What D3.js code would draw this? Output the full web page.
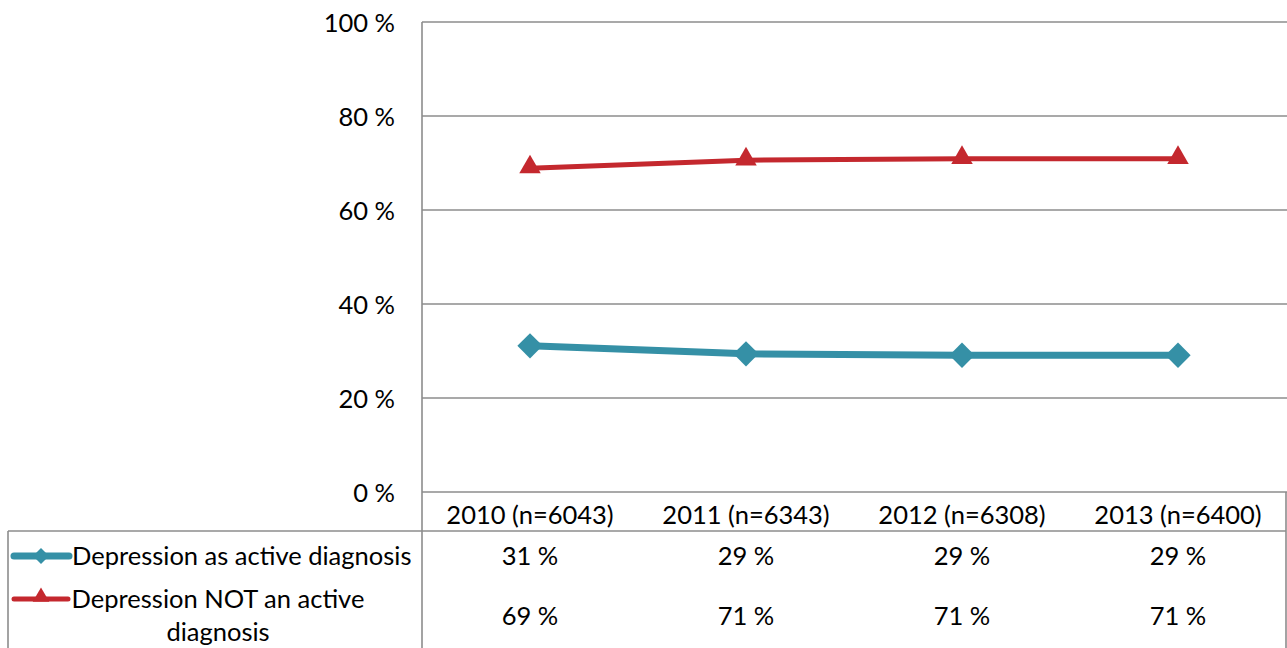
<!DOCTYPE html>
<html><head><meta charset="utf-8">
<script src="https://cdn.jsdelivr.net/npm/d3@7"></script>
<style>
body{margin:0;background:#fff;}
svg text{font-family:Lato,"Open Sans",sans-serif;fill:#000;}
</style></head>
<body><svg id="c" width="1287" height="648"></svg>
<script>
const categories = ["2010 (n=6043)","2011 (n=6343)","2012 (n=6308)","2013 (n=6400)"];
const seriesNames = ["Depression as active diagnosis","Depression NOT an active diagnosis"];
const activeValues = [31.1, 29.4, 29.1, 29.1];
const notActiveValues = [68.9, 70.6, 70.9, 70.9];
const tableActive = ["31 %","29 %","29 %","29 %"];
const tableNotActive = ["69 %","71 %","71 %","71 %"];
const yTicks = [0,20,40,60,80,100];

const svg = d3.select("#c");
const L = 422, R = 1286, T = 22, B = 492;
const x = d3.scaleBand().domain(categories).range([L, R]).padding(0);
const y = d3.scaleLinear().domain([0,100]).range([B, T]);
const grid = "#8c8c8c";
const FS = 25.5;

// gridlines
svg.append("g").selectAll("line").data(yTicks).join("line")
  .attr("x1", L).attr("x2", 1287).attr("y1", d=>y(d)).attr("y2", d=>y(d))
  .attr("stroke", grid).attr("stroke-width", 1.6);

// y axis labels
const yAxis = d3.axisLeft(y).tickValues(yTicks).tickFormat(d=>d+" %").tickSize(0).tickPadding(27);
const ga = svg.append("g").attr("transform", `translate(${L},0)`).call(yAxis);
ga.select(".domain").remove();
ga.selectAll("text").attr("font-size", FS).attr("dy", "0.36em").style("font-family","Lato,'Open Sans',sans-serif").attr("fill","#000");

// table lines
const rowH = 531;
svg.append("line").attr("x1", L).attr("x2", L).attr("y1", T).attr("y2", 648).attr("stroke", grid).attr("stroke-width", 1.6);
svg.append("line").attr("x1", 8).attr("x2", R).attr("y1", rowH).attr("y2", rowH).attr("stroke", grid).attr("stroke-width", 1.6);
svg.append("line").attr("x1", 8).attr("x2", 8).attr("y1", rowH).attr("y2", 648).attr("stroke", grid).attr("stroke-width", 1.6);
svg.append("line").attr("x1", R).attr("x2", R).attr("y1", B).attr("y2", 648).attr("stroke", grid).attr("stroke-width", 1.6);

// category header
svg.append("g").selectAll("text").data(categories).join("text")
  .attr("x", d=>x(d)+x.bandwidth()/2).attr("y", 524).attr("text-anchor","middle").attr("font-size", FS).text(d=>d);
// values rows
svg.append("g").selectAll("text").data(tableActive).join("text")
  .attr("x", (d,i)=>x(categories[i])+x.bandwidth()/2).attr("y", 565).attr("text-anchor","middle").attr("font-size", FS).text(d=>d);
svg.append("g").selectAll("text").data(tableNotActive).join("text")
  .attr("x", (d,i)=>x(categories[i])+x.bandwidth()/2).attr("y", 625).attr("text-anchor","middle").attr("font-size", FS).text(d=>d);

const blue = "#3590a6", red = "#c4282e";
const line = d3.line().x((d,i)=>x(categories[i])+x.bandwidth()/2).y(d=>y(d));

// series lines
svg.append("path").datum(activeValues).attr("d", line).attr("fill","none").attr("stroke", blue).attr("stroke-width", 7).attr("stroke-linejoin","round");
svg.append("path").datum(notActiveValues).attr("d", line).attr("fill","none").attr("stroke", red).attr("stroke-width", 5).attr("stroke-linejoin","round");

const diamond = d3.symbol().type(d3.symbolSquare).size(320);
const tri = d3.symbol().type(d3.symbolTriangle).size(200);
svg.append("g").selectAll("path").data(activeValues).join("path")
  .attr("d", diamond()).attr("fill", blue)
  .attr("transform",(d,i)=>`translate(${x(categories[i])+x.bandwidth()/2},${y(d)}) rotate(45)`);
svg.append("g").selectAll("path").data(notActiveValues).join("path")
  .attr("d", tri()).attr("fill", red)
  .attr("transform",(d,i)=>`translate(${x(categories[i])+x.bandwidth()/2},${y(d)-1})`);

// legend keys in table
svg.append("line").attr("x1", 14).attr("x2", 69).attr("y1", 556).attr("y2", 556).attr("stroke", blue).attr("stroke-width", 7).attr("stroke-linecap","round");
svg.append("path").attr("d", d3.symbol().type(d3.symbolSquare).size(130)()).attr("fill", blue).attr("transform","translate(41,556) rotate(45)");
svg.append("line").attr("x1", 14).attr("x2", 68).attr("y1", 599).attr("y2", 599).attr("stroke", red).attr("stroke-width", 5).attr("stroke-linecap","round");
svg.append("path").attr("d", d3.symbol().type(d3.symbolTriangle).size(120)()).attr("fill", red).attr("transform","translate(41,597)");

svg.append("text").attr("x", 72).attr("y", 565).attr("font-size", FS).text(seriesNames[0]);
svg.append("text").attr("x", 218).attr("y", 608).attr("text-anchor","middle").attr("font-size", FS).text("Depression NOT an active");
svg.append("text").attr("x", 218).attr("y", 641).attr("text-anchor","middle").attr("font-size", FS).text("diagnosis");
</script></body></html>
